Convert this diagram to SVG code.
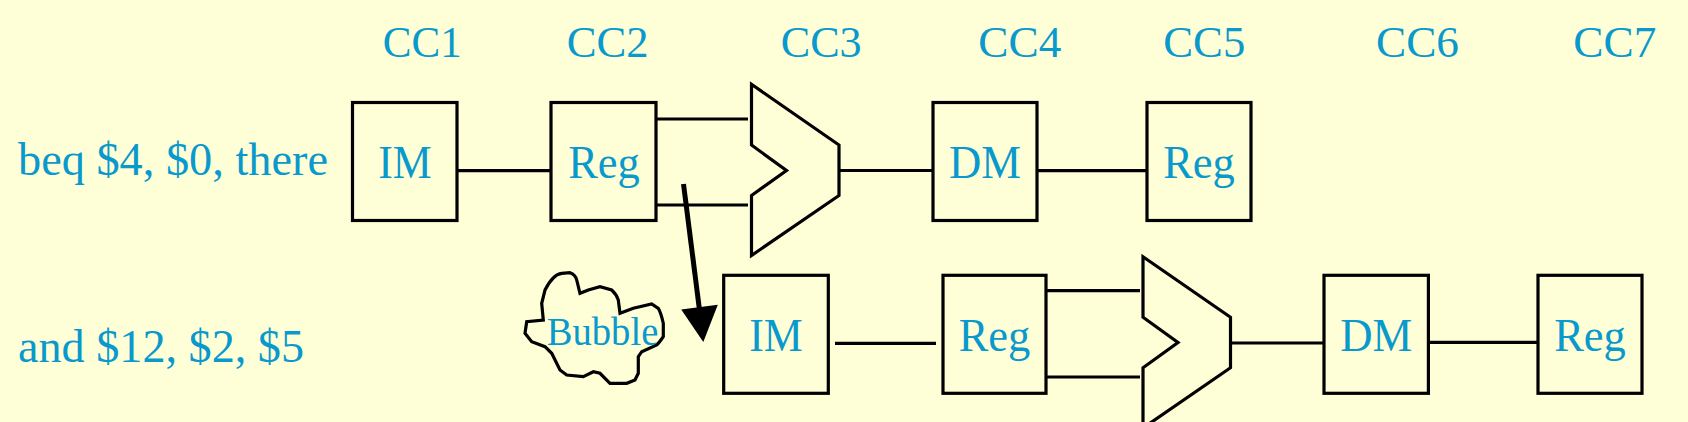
<svg xmlns="http://www.w3.org/2000/svg" width="1688" height="422" viewBox="0 0 1688 422">
<style>
.t{font-family:"Liberation Serif","Times New Roman",serif;fill:#0A99CC;}
.cc{font-size:45px;}
.lbl{font-size:47px;}
.nt{font-size:47px;text-anchor:middle;}
.box{fill:none;stroke:#000;stroke-width:3.2;}
.ln{stroke:#000;stroke-width:3.2;fill:none;}
</style>
<rect x="0" y="0" width="1688" height="422" fill="#FFFFD7"/>
<g id="cc-labels">
<text class="t cc" x="382.7" y="57.3" textLength="79" lengthAdjust="spacingAndGlyphs">CC1</text>
<text class="t cc" x="566.7" y="57.3" textLength="82" lengthAdjust="spacingAndGlyphs">CC2</text>
<text class="t cc" x="780.7" y="57.3" textLength="81" lengthAdjust="spacingAndGlyphs">CC3</text>
<text class="t cc" x="978.3" y="57.3" textLength="83" lengthAdjust="spacingAndGlyphs">CC4</text>
<text class="t cc" x="1163.3" y="57.3" textLength="82" lengthAdjust="spacingAndGlyphs">CC5</text>
<text class="t cc" x="1376" y="57.3" textLength="83" lengthAdjust="spacingAndGlyphs">CC6</text>
<text class="t cc" x="1573.3" y="57.3" textLength="83" lengthAdjust="spacingAndGlyphs">CC7</text>
</g>
<g id="instr-labels">
<text class="t lbl" x="18" y="175" textLength="310" lengthAdjust="spacingAndGlyphs">beq $4, $0, there</text>
<text class="t lbl" x="18" y="362" textLength="286" lengthAdjust="spacingAndGlyphs">and $12, $2, $5</text>
</g>
<g id="connectors">
<line class="ln" x1="457" y1="170.7" x2="551" y2="170.7"/>
<line class="ln" x1="656" y1="119" x2="748" y2="119"/>
<line class="ln" x1="656" y1="205" x2="748" y2="205"/>
<line class="ln" x1="839" y1="170.5" x2="933" y2="170.5"/>
<line class="ln" x1="1037" y1="170.7" x2="1147" y2="170.7"/>
<line class="ln" x1="835" y1="343.3" x2="936" y2="343.3"/>
<line class="ln" x1="1046" y1="290.7" x2="1140" y2="290.7"/>
<line class="ln" x1="1046" y1="377" x2="1140" y2="377"/>
<line class="ln" x1="1230.5" y1="343" x2="1324" y2="343"/>
<line class="ln" x1="1428" y1="342.3" x2="1538" y2="342.3"/>
<line x1="683.5" y1="184" x2="699.5" y2="310" stroke="#000" stroke-width="5"/>
<polygon points="681.2,309.5 717.8,304.8 703.3,342" fill="#000"/>
</g>
<g id="im1"><rect class="box" x="352.5" y="102.5" width="104.5" height="118"/><text class="t nt" x="405" y="178.3" textLength="53.5" lengthAdjust="spacingAndGlyphs">IM</text></g>
<g id="reg1"><rect class="box" x="551" y="102.5" width="105" height="118"/><text class="t nt" x="604" y="178.3" textLength="71.7" lengthAdjust="spacingAndGlyphs">Reg</text></g>
<g id="alu1"><polygon class="box" points="751.5,84.3 839,145 839,195.5 751.5,255.5 751.5,195.5 786.5,170.5 751.5,145"/></g>
<g id="dm1"><rect class="box" x="933" y="102.5" width="104" height="118"/><text class="t nt" x="985" y="178.3" textLength="72" lengthAdjust="spacingAndGlyphs">DM</text></g>
<g id="regwb1"><rect class="box" x="1147" y="102.5" width="104" height="118"/><text class="t nt" x="1199" y="178.3" textLength="71.7" lengthAdjust="spacingAndGlyphs">Reg</text></g>
<g id="bubble">
<path class="box" d="M545,290 C550,280 556,274 561.7,273.3 L570,272.7 C574,274 576,277 576.7,280 L580,293.3 L588.3,290 L600,286.7 L611.7,290 C615,293 617,296 618.3,300 L620,313.3 L633.3,308.3 L651.7,304 L658.3,308.3 C661,313 662,318 663.3,323.3 L663.3,336.7 C661,340 659,343 656.7,345 L641.7,351.7 L638.3,356.7 L638.3,373.3 L635,380 L626.7,383.3 L610,383.3 L600,373.3 L593.3,371.7 L583.3,376.7 L566.7,375 L560,370 L551.7,353.3 L545,346.7 L531.7,341.7 L525,333.3 L526.7,321.7 L543.3,320 L541.7,303.3 Z"/>
<text class="t" x="602.5" y="345" font-size="39" text-anchor="middle" textLength="111.6" lengthAdjust="spacingAndGlyphs">Bubble</text>
</g>
<g id="im2"><rect class="box" x="723.7" y="275.3" width="104.6" height="118"/><text class="t nt" x="776" y="350.5" textLength="53.5" lengthAdjust="spacingAndGlyphs">IM</text></g>
<g id="reg2"><rect class="box" x="943" y="275.3" width="103" height="118"/><text class="t nt" x="994.5" y="350.5" textLength="71.7" lengthAdjust="spacingAndGlyphs">Reg</text></g>
<g id="alu2"><polygon class="box" points="1143,256.7 1230.5,317.3 1230.5,367.7 1143,428 1143,367.7 1178,342.5 1143,317.3"/></g>
<g id="dm2"><rect class="box" x="1324" y="275.3" width="104.4" height="118"/><text class="t nt" x="1376.2" y="350.5" textLength="72" lengthAdjust="spacingAndGlyphs">DM</text></g>
<g id="regwb2"><rect class="box" x="1538" y="275.3" width="104" height="118"/><text class="t nt" x="1590" y="350.5" textLength="71.7" lengthAdjust="spacingAndGlyphs">Reg</text></g>
</svg>
